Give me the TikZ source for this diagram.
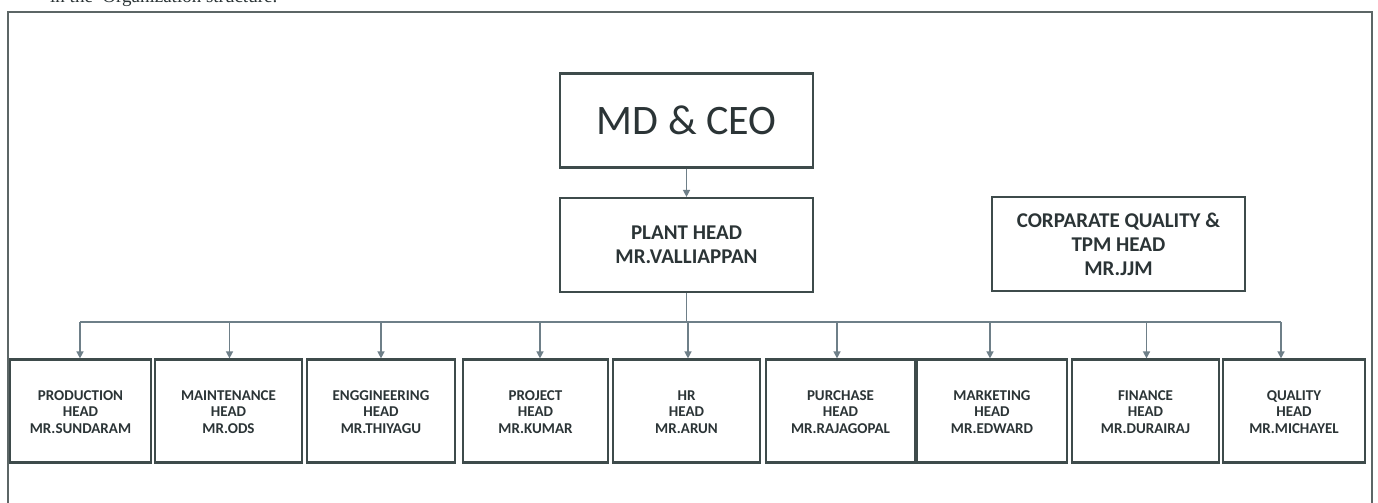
\documentclass[tikz,border=0pt]{standalone}
\usepackage{fontspec}
\setmainfont{Carlito}
\newfontfamily\serifmain{Liberation Serif}
\usetikzlibrary{arrows.meta}
\definecolor{boxcol}{HTML}{3E4B4B}
\definecolor{linecol}{HTML}{6E7F88}
\definecolor{txtcol}{HTML}{2B3436}
\definecolor{framecol}{HTML}{5C6666}
\tikzset{
  box/.style={draw=boxcol, line width=2.2pt, fill=white, align=center, text=txtcol, inner sep=2pt},
  topbox/.style={box, minimum width=253pt, minimum height=94pt},
  headbox/.style={box, font=\fontsize{15}{16.5}\selectfont\bfseries, minimum height=103pt},
  arr/.style={draw=linecol, line width=1.4pt, -{Triangle[length=7pt,width=7pt]}},
  conn/.style={draw=linecol, line width=1.4pt},
}
\begin{document}
\begin{tikzpicture}[x=1pt,y=-1pt]
\useasboundingbox (0,0) rectangle (1378,503);
\clip (0,0) rectangle (1378,503);
\fill[white] (0,0) rectangle (1378,503);
% partial heading at the top edge
\node[anchor=base west, inner sep=0pt, font=\serifmain\fontsize{19}{19}\selectfont, text=txtcol] (heading) at (50,3) {in the\ \ Organization structure.};
% outer frame
\draw[framecol, line width=2.6pt] (8,12) rectangle (1372,530);
% top boxes
\node[topbox, font=\fontsize{42}{46}\selectfont] (ceo) at (686.5,120.5) {MD \& CEO};
\node[topbox, font=\fontsize{21}{24}\selectfont\bfseries] (plant) at (686.5,245) {PLANT HEAD\\MR.VALLIAPPAN};
\node[topbox, font=\fontsize{21}{24}\selectfont\bfseries] (cq) at (1118.5,244) {CORPARATE QUALITY \&\\TPM HEAD\\MR.JJM};
% bottom row
\node[headbox, minimum width=141pt] (b1) at (80.5,411) {\strut PRODUCTION\\HEAD\\MR.SUNDARAM};
\node[headbox, minimum width=147pt] (b2) at (228.5,411) {\strut MAINTENANCE\\HEAD\\MR.ODS};
\node[headbox, minimum width=148pt] (b3) at (381,411) {\strut ENGGINEERING\\HEAD\\MR.THIYAGU};
\node[headbox, minimum width=145pt] (b4) at (535.5,411) {\strut PROJECT\\HEAD\\MR.KUMAR};
\node[headbox, minimum width=147pt] (b5) at (686.5,411) {\strut HR\\HEAD\\MR.ARUN};
\node[headbox, minimum width=149pt] (b6) at (840.5,411) {\strut PURCHASE\\HEAD\\MR.RAJAGOPAL};
\node[headbox, minimum width=150pt] (b7) at (992,411) {\strut MARKETING\\HEAD\\MR.EDWARD};
\node[headbox, minimum width=147pt] (b8) at (1145.5,411) {\strut FINANCE\\HEAD\\MR.DURAIRAJ};
\node[headbox, minimum width=142pt] (b9) at (1294,411) {\strut QUALITY\\HEAD\\MR.MICHAYEL};
% connectors
\coordinate (bus) at (0,322);
\draw[arr] (ceo.south) -- (plant.north);
\draw[conn] (plant.south) -- (plant.south |- bus);
\draw[conn] ([xshift=-0.5pt]b1.north |- bus) -- ([xshift=-13pt]b9.north |- bus);
\draw[arr] ([xshift=-0.5pt]b1.north |- bus) -- ([xshift=-0.5pt]b1.north);
\draw[arr] ([xshift=1pt]b2.north |- bus) -- ([xshift=1pt]b2.north);
\draw[arr] (b3.north |- bus) -- (b3.north);
\draw[arr] ([xshift=4.5pt]b4.north |- bus) -- ([xshift=4.5pt]b4.north);
\draw[arr] ([xshift=1.5pt]b5.north |- bus) -- ([xshift=1.5pt]b5.north);
\draw[arr] ([xshift=-3.5pt]b6.north |- bus) -- ([xshift=-3.5pt]b6.north);
\draw[arr] ([xshift=-2pt]b7.north |- bus) -- ([xshift=-2pt]b7.north);
\draw[arr] ([xshift=1pt]b8.north |- bus) -- ([xshift=1pt]b8.north);
\draw[arr] ([xshift=-13pt]b9.north |- bus) -- ([xshift=-13pt]b9.north);
\end{tikzpicture}
\end{document}
